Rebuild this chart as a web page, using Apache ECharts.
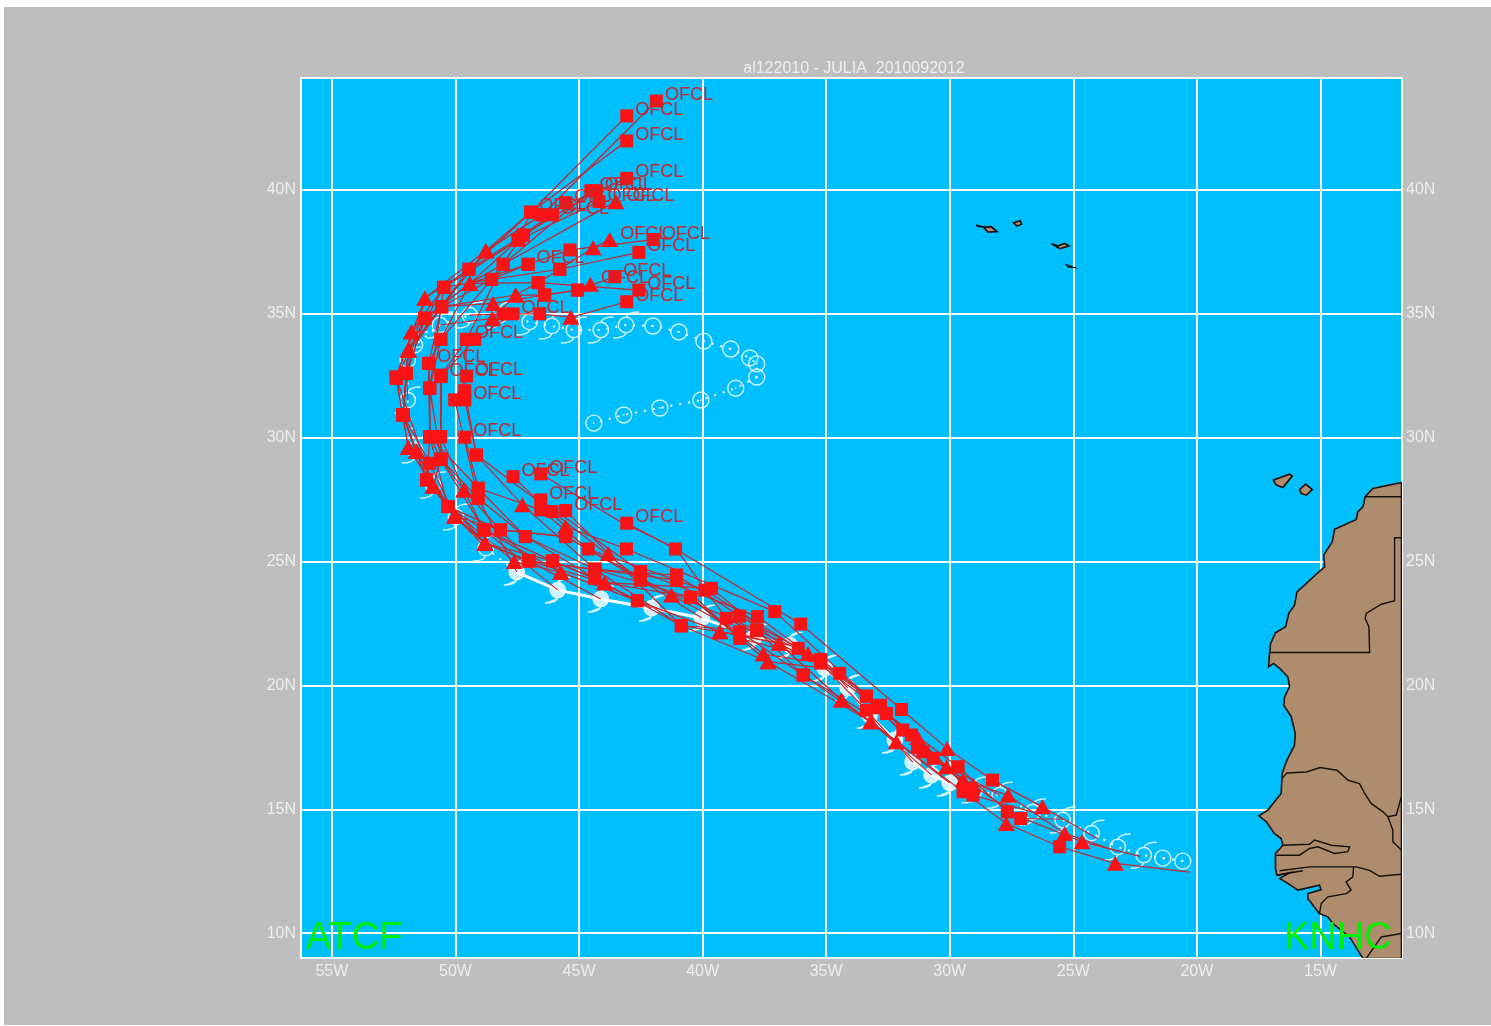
<!DOCTYPE html>
<html><head><meta charset="utf-8">
<script src="https://cdn.jsdelivr.net/npm/echarts@6/dist/echarts.min.js"></script>
<style>
html,body{margin:0;padding:0;background:#fff;width:1491px;height:1026px;overflow:hidden}
#paper{position:absolute;left:4px;top:7px;width:1487px;height:1018px;background:#bebebe}
#chart{position:absolute;left:0;top:0;width:1491px;height:1026px}
</style></head><body><div id="paper"></div><div id="chart"></div>
<script>
const lonTicks=[55,50,45,40,35,30,25,20,15];
const latTicks=[40,35,30,25,20,15,10];
const titleText='al122010 - JULIA  2010092012';
// best track: lon W, lat N, kind (0 depression, 1 storm, 2 hurricane)
const bestTrack=[[20.57,12.91,0],[21.38,13.03,0],[22.15,13.15,1],[23.2,13.48,1],[24.26,14.04,1],[25.43,14.57,1],[26.64,14.89,1],[27.98,15.57,1],[28.99,15.78,1],[30.0,16.06,2],[30.73,16.38,2],[31.5,16.91,2],[32.22,17.8,2],[33.24,18.8,2],[34.13,19.9,2],[35.06,20.7,2],[36.47,21.63,2],[37.89,21.95,2],[40.03,22.72,2],[42.06,23.12,2],[44.12,23.49,2],[45.86,23.85,2],[47.52,24.58,2],[48.77,25.55,1],[49.98,26.8,1],[50.91,28.09,1],[51.64,29.5,1],[51.93,31.52,1],[51.93,33.14,1],[51.64,33.74,1],[50.63,34.55,1],[49.42,34.95,1],[48.2,34.95,1],[47.0,34.67,1],[46.1,34.51,1],[45.21,34.35,1],[44.12,34.35,1],[43.1,34.55,1],[42.01,34.51,0],[40.96,34.27,0],[39.95,33.9,0],[38.86,33.58,0],[38.09,33.22,0],[37.81,32.98,0],[37.81,32.45,0],[38.66,32.0,0],[40.07,31.52,0],[41.73,31.2,0],[43.19,30.92,0],[44.4,30.59,0]];
// forecasts: lon W, lat N, marker (0 none, 1 square, 2 triangle)
const ofcl01=[[20.3,12.47,0],[23.3,12.82,2],[25.55,13.49,1],[27.71,14.43,2],[29.46,15.71,1],[33.2,18.54,2],[37.35,20.96,2],[40.86,22.41,1],[43.82,25.33,2],[45.54,27.06,1]];
const ofcl02=[[24.0,13.8,0],[26.25,15.1,2],[28.27,16.18,1],[30.11,17.46,2],[31.95,19.03,1],[36.03,22.48,1],[41.1,25.51,1],[43.07,26.55,1]];
const ofcl03=[[22.3,13.1,0],[24.65,13.69,2],[27.67,14.9,1],[29.66,16.72,1],[32.56,18.87,1],[37.08,22.98,1],[43.08,25.51,1],[45.54,26.41,2],[47.67,28.43,1]];
const ofcl04=[[23.2,13.3,0],[25.35,14.03,2],[27.64,15.57,2],[29.46,16.18,2],[31.55,18.0,1],[33.37,19.57,1],[37.78,22.78,1],[42.51,24.6,1],[46.55,27.49,1]];
const ofcl05=[[25.4,14.6,0],[27.13,14.63,1],[29.06,15.98,2],[31.08,17.32,1],[34.45,20.49,1],[39.04,22.71,1],[41.1,25.55,0],[43.3,26.6,0],[46.55,28.54,1]];
const ofcl06=[[26.64,14.89,0],[29.06,15.57,1],[30.13,16.72,2],[31.3,17.9,2],[32.9,19.1,1],[36.13,21.5,1],[39.91,23.85,1],[44.63,25.51,1],[46.55,27.09,1],[49.08,27.96,1],[49.62,30.02,1]];
const ofcl07=[[27.98,15.57,0],[30.67,17.06,1],[31.9,18.2,1],[32.8,19.2,1],[35.22,21.05,1],[37.82,22.24,1],[42.51,24.26,1],[46.09,27.02,1],[49.15,29.3,1],[49.62,31.53,1]];
const ofcl08=[[28.99,15.78,0],[31.3,17.5,1],[33.37,19.57,1],[35.73,21.29,2],[38.5,22.8,1],[41.06,24.46,1],[44.36,24.69,1],[47.17,26.01,1],[49.08,27.56,1],[50.03,31.53,1],[49.55,32.49,1]];
const ofcl09=[[30.0,16.06,0],[32.16,17.73,2],[34.38,19.41,2],[36.9,21.7,2],[39.64,23.92,1],[43.96,24.15,2],[47.03,25.03,1],[49.66,27.89,2],[50.6,30.04,1],[50.59,32.47,1]];
const ofcl10=[[30.73,16.38,0],[33.2,18.54,2],[35.93,20.42,1],[38.5,22.17,1],[41.26,23.65,2],[45.54,26.01,1],[48.18,26.28,1],[50.3,27.22,1],[51.04,30.04,1],[51.04,32,1],[51.08,33,1]];
const ofcl11=[[31.5,16.91,0],[33.37,19.0,1],[35.22,20.9,1],[37.55,21.27,2],[40.49,23.56,1],[44.36,24.69,1],[47.29,27.29,2],[49.15,29.3,1],[49.62,31.9,1],[49.55,33.97,1]];
const ofcl12=[[32.22,17.8,0],[34.38,19.41,2],[36.9,21.7,2],[39.3,22.17,2],[42.64,23.42,1],[45.74,24.57,2],[48.85,26.28,1],[50.59,29.13,1],[50.59,32.47,1],[49.22,33.97,1],[47.67,35,1]];
const ofcl13=[[33.24,18.8,0],[35.93,20.42,1],[37.78,22.21,1],[40.86,22.41,1],[44.36,24.33,1],[47.17,26.01,1],[49.08,27.96,1],[51.04,30.04,1],[51.08,33,1],[50.59,33.97,1],[48.54,36.39,1],[47.06,37,1]];
const ofcl14=[[34.13,19.9,0],[35.22,21.05,1],[38.5,21.9,1],[41.06,24.26,1],[44.36,24.69,1],[47.03,25.03,1],[48.81,25.74,2],[51.17,28.3,1],[52.12,30.92,1],[51.9,33.54,2],[50.56,35.29,1],[48.77,37.55,2],[46.95,39.1,1]];
const ofcl15=[[35.06,20.7,0],[37.35,20.96,2],[40.49,23.56,1],[43.96,24.15,2],[46.07,25.03,1],[48.81,25.74,2],[50.03,26.84,2],[51.91,29.61,2],[52.39,32.4,1],[51.78,34.28,2],[50.47,36.07,1],[47.46,37.98,1],[46.07,39,1]];
const ofcl16=[[36.47,21.63,0],[39.3,22.17,2],[42.64,23.42,1],[45.74,24.57,2],[47.62,25.0,2],[50.3,27.22,1],[51.58,29.44,2],[52.12,30.92,1],[51.98,32.6,1],[51.24,35.63,2],[49.45,36.8,1],[47.26,38.18,1],[45.54,39.49,1]];
const ofcl17=[[37.89,21.95,0],[40.86,22.41,1],[44.36,24.69,1],[47.03,25.03,1],[48.81,25.74,2],[50.9,28.05,2],[52.39,32.4,1],[51.24,34.82,1],[49.42,36.23,2],[48.07,37,1],[44.52,39.97,1]];
const ofcl18=[[40.03,22.72,0],[42.51,24.26,1],[45.54,26.01,1],[48.18,26.28,1],[50.03,26.84,2],[51.04,28.97,1],[52.12,30.92,1],[51.91,33.54,2],[50.56,35.29,1],[48.54,36.39,1],[47.26,38.18,1],[44.3,39.97,1]];
const ofcl19=[[42.06,23.12,0],[44.36,24.33,1],[46.07,25.03,1],[48.85,26.28,1],[50.3,27.22,1],[51.17,28.3,1],[51.04,30.04,1],[51.04,32,1],[50.59,33.97,1],[49.42,36.23,2],[47.46,37.98,1],[44.19,39.53,1]];
const ofcl20=[[44.12,23.49,0],[47.03,25.03,1],[48.81,25.74,2],[50.03,26.84,2],[50.9,28.05,2],[50.59,29.13,1],[50.6,30.04,1],[50.57,32.53,1],[49.55,33.97,1],[48.07,37,1],[43.51,39.53,2]];
const ofcl21=[[45.86,23.85,0],[48.85,26.28,1],[49.66,27.89,2],[50.59,29.13,1],[51.04,30.04,1],[51.08,33,1],[50.56,35.29,1],[48.77,37.55,2],[46.49,39,1],[43.07,40.47,1]];
const ofcl22=[[47.52,24.58,0],[49.08,27.56,1],[50.59,29.13,1],[51.04,32,1],[50.47,36.07,1],[47.46,37.98,1],[46.95,39.1,1],[43.07,41.98,1]];
const ofcl23=[[48.77,25.55,0],[50.03,26.84,2],[51.17,28.3,1],[52.12,30.92,1],[51.91,33.54,2],[49.45,36.8,1],[46.95,39.1,1],[43.07,42.99,1]];
const ofcl24=[[49.98,26.8,0],[50.9,28.05,2],[51.91,29.61,2],[52.41,32.46,1],[51.24,35.63,2],[48.77,37.55,2],[46.49,39,1],[41.87,43.59,1]];
const ofcl25=[[50.91,28.09,0],[51.58,29.44,2],[52.12,30.92,1],[51.98,32.6,1],[51.24,34.82,1],[49.42,36.23,2],[47.06,37,1],[45.37,37.58,1],[42,38,1]];
const ofcl26=[[51.64,29.5,0],[52.12,30.92,1],[51.91,33.54,2],[50.47,36.07,1],[48.54,36.39,1],[45.78,36.8,1],[44.43,37.67,2],[43.76,38,2]];
const ofcl27=[[51.93,31.52,0],[51.98,32.6,1],[51.24,34.82,1],[49.42,36.23,2],[46.65,36.26,1],[45.78,36.8,1],[42.58,37.48,1]];
const ofcl28=[[51.93,33.14,0],[51.78,34.28,2],[50.56,35.29,1],[48.48,35.42,2],[46.39,35.76,1],[45.06,35.96,1],[43.55,36.5,1]];
const ofcl29=[[51.64,33.74,0],[50.56,35.29,1],[47.56,35.76,2],[46.65,36.26,1],[42.58,35.96,1]];
const ofcl30=[[50.63,34.55,0],[48.5,34.82,2],[47.56,35.76,2],[46.39,35.76,1],[45.06,35.96,1],[44.54,36.2,2]];
const ofcl31=[[49.42,34.95,0],[48.07,35,1],[46.59,35,1],[45.33,34.86,2],[43.07,35.49,1]];
const forecasts=[ofcl01,ofcl02,ofcl03,ofcl04,ofcl05,ofcl06,ofcl07,ofcl08,ofcl09,ofcl10,ofcl11,ofcl12,ofcl13,ofcl14,ofcl15,ofcl16,ofcl17,ofcl18,ofcl19,ofcl20,ofcl21,ofcl22,ofcl23,ofcl24,ofcl25,ofcl26,ofcl27,ofcl28,ofcl29,ofcl30,ofcl31];
// land outlines: lon W, lat N
const africaCoast=[[11.72,28.19],[12.88,27.95],[13.19,27.62],[13.28,27.21],[13.49,27.01],[13.55,26.70],[14.43,26.30],[14.52,25.80],[14.87,25.26],[14.83,24.79],[15.17,24.49],[15.57,24.12],[15.95,23.78],[16.05,23.24],[16.28,22.91],[16.41,22.37],[16.82,22.13],[17.02,21.69],[17.06,21.29],[17.10,20.75],[16.90,20.89],[16.65,20.69],[16.32,20.35],[16.25,19.95],[16.45,19.54],[16.49,19.21],[16.18,18.73],[16.02,18.06],[16.05,17.59],[16.36,16.98],[16.55,16.45],[16.59,15.64],[17.13,14.97],[17.49,14.74],[17.19,14.50],[16.86,14.02],[16.59,13.82],[16.52,13.55],[16.82,13.22],[16.82,12.61],[16.76,12.34],[16.25,12.44],[16.65,12.21],[16.32,12.01],[15.91,11.74],[15.04,11.94],[14.97,11.76],[15.51,11.60],[15.51,11.40],[15.04,10.79],[14.70,10.66],[14.50,10.39],[13.82,9.85],[13.28,8.98],[11.72,8.98]];
const tenerife=[[16.90,28.29],[16.25,28.53],[16.14,28.45],[16.52,27.99],[16.79,28.09]];
const granCanaria=[[15.84,27.91],[15.60,28.13],[15.33,27.91],[15.57,27.68],[15.78,27.75]];
const azoresA=[[28.63,38.49],[28.32,38.52],[28.09,38.32],[28.45,38.30]];
const azoresB=[[27.42,38.68],[27.15,38.76],[27.09,38.62],[27.28,38.54]];
const azoresC=[[25.89,37.84],[25.62,37.74],[25.35,37.84],[25.18,37.74],[25.55,37.63]];
const azoresD=[[25.26,36.97],[25.02,36.88],[25.2,36.9]];
const azoresE=[[28.93,38.58],[28.68,38.52],[28.8,38.52]];
const landShapes=[africaCoast,tenerife,granCanaria,azoresA,azoresB,azoresC,azoresD,azoresE];
const borderNorth=[[13.19,27.62],[11.72,27.62]];
const borderSahara=[[17.06,21.33],[13.01,21.33],[13.04,22.37],[13.19,22.70],[13.15,22.91],[12.54,23.28],[12.0,23.42],[12.0,25.96],[11.72,25.96]];
const borderSenegal=[[16.55,16.25],[16.36,16.47],[15.57,16.51],[15.01,16.69],[14.33,16.58],[13.89,16.18],[13.42,16.04],[13.21,15.64],[12.95,15.24],[12.47,14.90],[12.27,14.70],[11.93,14.77],[11.73,15.50]];
const borderMali=[[12.27,14.70],[12.07,14.16],[12.07,13.69],[11.72,13.35]];
const borderGambia=[[16.52,13.55],[15.44,13.59],[15.24,13.76],[14.56,13.55],[13.82,13.49],[13.89,13.29],[14.43,13.22],[15.10,13.49],[15.44,13.42],[15.85,13.15],[16.79,13.15]];
const borderCasamance=[[16.65,12.52],[15.44,12.68],[13.55,12.68],[13.01,12.54],[12.61,12.30],[11.72,12.38]];
const borderGuinea=[[13.66,12.68],[13.69,12.27],[13.96,12.07],[13.76,11.74],[13.96,11.60],[14.70,11.47],[14.97,11.20],[15.04,10.79]];
const borderSouth=[[13.15,8.98],[12.54,9.85],[11.72,9.99]];
const borderCreek=[[16.76,12.34],[15.71,12.52]];
const borderLines=[borderNorth,borderSahara,borderSenegal,borderMali,borderGambia,borderCasamance,borderGuinea,borderSouth,borderCreek];

const stormPath='path://M12 5.5a6.5 6.5 0 1 0 0.01 0z M12 5.5C13 2.5 17 1 23 1 M12 18.5C11 21.5 7 23 1 23';
const depressionPath='path://M12 5a7 7 0 1 0 0.01 0z M12 11.2L12 12.8';
const paleText='#eeeeee';
const redLine='#c9252b';
const redMark='#fb1215';
const toPts=(api,arr)=>arr.map(p=>api.coord([p[0],p[1]]));

const series=[];
series.push({type:'custom',coordinateSystem:'cartesian2d',silent:true,clip:true,z:3,
  data:landShapes.map((_,i)=>[i]),
  renderItem:(params,api)=>({type:'polygon',shape:{points:toPts(api,landShapes[params.dataIndex])},
    style:{fill:'#ae8c6e',stroke:'#17100a',lineWidth:1.6}})});
series.push({type:'custom',coordinateSystem:'cartesian2d',silent:true,clip:true,z:4,
  data:borderLines.map((_,i)=>[i]),
  renderItem:(params,api)=>({type:'polyline',shape:{points:toPts(api,borderLines[params.dataIndex])},
    style:{fill:'none',stroke:'#17100a',lineWidth:1.4}})});
series.push({type:'line',data:bestTrack,encode:{x:0,y:1},symbol:'none',silent:true,z:5,
  lineStyle:{color:'#fff',width:2,type:[2,7]}});
series.push({type:'line',data:bestTrack.filter(p=>p[2]===2),encode:{x:0,y:1},symbol:'none',silent:true,z:5,
  lineStyle:{color:'#fff',width:3}});
[[0,depressionPath,16,'transparent',1.4],[1,stormPath,26,'transparent',1.5],[2,stormPath,26,'#fff',1.4]].forEach(([kind,path,size,fill,bw])=>{
  series.push({type:'scatter',data:bestTrack.filter(p=>p[2]===kind),encode:{x:0,y:1},symbol:path,symbolSize:size,silent:true,z:6,
    itemStyle:{color:fill,borderColor:'#fff',borderWidth:bw}});
});
forecasts.forEach(track=>{
  series.push({type:'line',data:track,encode:{x:0,y:1},silent:true,z:8,showAllSymbol:true,
    symbol:v=>v[2]===1?'rect':v[2]===2?'triangle':'none',
    symbolSize:v=>v[2]===2?[17,15]:[13,13],
    lineStyle:{color:redLine,width:1.2},
    itemStyle:{color:redMark,borderWidth:0},
    label:{show:true,position:'right',distance:2,color:redLine,fontFamily:'Liberation Sans',fontSize:18,
      formatter:p=>p.dataIndex===track.length-1?'OFCL':''},
    labelLayout:{dy:-6,hideOverlap:false}
  });
});

const chart=echarts.init(document.getElementById('chart'),null,{renderer:'canvas'});
const labelStyle={color:paleText,fontFamily:'Liberation Sans',fontSize:16};
chart.setOption({
  animation:false,backgroundColor:'transparent',
  title:[
    {text:titleText,left:849,top:56,textAlign:'center',textStyle:{color:paleText,fontFamily:'Liberation Sans',fontSize:16,fontWeight:'normal'}},
    {text:'ATCF',left:301,top:915,textStyle:{color:'#00f000',fontFamily:'Liberation Sans',fontSize:38,fontWeight:'normal'},z:20},
    {text:'KNHC',left:1279,top:915,textStyle:{color:'#00f000',fontFamily:'Liberation Sans',fontSize:38,fontWeight:'normal'},z:20}
  ],
  grid:{left:301,right:89,top:78,bottom:68,show:true,backgroundColor:'#00bfff',borderColor:'#ffffff',borderWidth:2},
  xAxis:{type:'value',inverse:true,min:11.7,max:56.25,position:'bottom',
    axisLine:{show:false},axisTick:{show:false,customValues:lonTicks},
    splitLine:{show:true,lineStyle:{color:'#ffffff',width:2}},
    axisLabel:{...labelStyle,margin:6,customValues:lonTicks,formatter:v=>v+'W',showMinLabel:true,showMaxLabel:true}},
  yAxis:[
    {type:'value',min:9,max:44.52,position:'left',
      axisLine:{show:false},axisTick:{show:false,customValues:latTicks},
      splitLine:{show:true,lineStyle:{color:'#ffffff',width:2}},
      axisLabel:{...labelStyle,margin:5,customValues:latTicks,formatter:v=>v+'N'}},
    {type:'value',min:9,max:44.52,position:'right',
      axisLine:{show:false},axisTick:{show:false,customValues:latTicks},splitLine:{show:false},
      axisLabel:{...labelStyle,margin:4,customValues:latTicks,formatter:v=>v+'N'}}
  ],
  series
});
</script></body></html>
